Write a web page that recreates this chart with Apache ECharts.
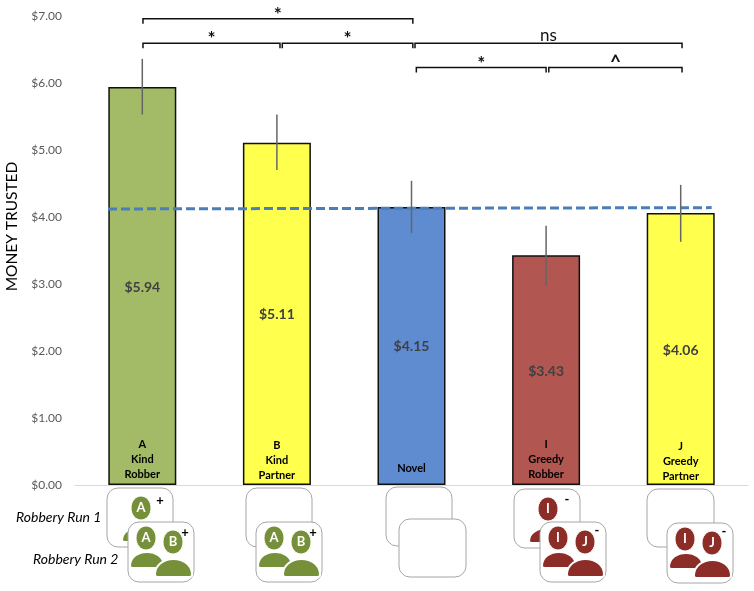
<!DOCTYPE html>
<html lang="en">
<head>
<meta charset="UTF-8" />
<title>Money trusted</title>
<script src="https://cdn.jsdelivr.net/npm/echarts@6/dist/echarts.min.js"></script>
<style>
    body { margin: 0; background: #fff; }
    #chart { width: 754px; height: 591px; }
</style>
</head>
<body>
<div id="chart"></div>
<script>
    // values
    const categories = ['A', 'B', 'Novel', 'I', 'J'];
    const barLabels = ['A\nKind\nRobber', 'B\nKind\nPartner', 'Novel', 'I\nGreedy\nRobber', 'J\nGreedy\nPartner'];
    const barLabelLift = [3, 2, 9, 3, 1];
    const trusted = [5.94, 5.11, 4.15, 3.43, 4.06];
    const barColors = ['#a3bb66', '#ffff4d', '#5f8bd0', '#b15650', '#ffff4d'];
    const errorLow = [5.53, 4.70, 3.76, 2.97, 3.63];
    const errorHigh = [6.36, 5.53, 4.54, 3.87, 4.48];
    const yTicks = [0, 1, 2, 3, 4, 5, 6, 7];

    // blue dashed reference line, x runs 0..5 over the five categories
    const refX = [0.245, 4.73];
    const refY = [4.12, 4.14];

    // significance brackets: from, to, height in dollars, text
    const bracketFrom = [0.505, 0.505, 1.54, 2.526, 2.536, 3.52];
    const bracketTo = [2.51, 1.523, 2.51, 4.51, 3.5, 4.51];
    const bracketLevel = [6.96, 6.595, 6.595, 6.595, 6.23, 6.23];
    const bracketText = ['*', '*', '*', 'ns', '*', '^'];

    const GREEN = '#76903a';
    const RED = '#8c2d27';

    // dome shape for the shoulders of the people in the icons
    echarts.graphic.registerShape('shoulders', echarts.graphic.extendShape({
        shape: { x: 0, y: 0, width: 0, height: 0 },
        buildPath(ctx, s) {
            const m = s.width / 2, r = s.x + s.width, b = s.y + s.height;
            ctx.moveTo(s.x, b - 2);
            ctx.bezierCurveTo(s.x, s.y + s.height * 0.3, s.x + m * 0.5, s.y, s.x + m, s.y);
            ctx.bezierCurveTo(s.x + m * 1.5, s.y, r, s.y + s.height * 0.3, r, b - 2);
            ctx.quadraticCurveTo(r, b, r - 3, b);
            ctx.lineTo(s.x + 3, b);
            ctx.quadraticCurveTo(s.x, b, s.x, b - 2);
            ctx.closePath();
        }
    }));

    // robbery run icons below the axis
    function card(x, y, w, h) {
        return {
            type: 'rect',
            shape: { x: x, y: y, width: w, height: h, r: 11 },
            style: { fill: '#fff', stroke: '#a6a6a6', lineWidth: 1 }
        };
    }
    function head(cx, cy, color, letter) {
        return {
            type: 'ellipse',
            shape: { cx: cx, cy: cy, rx: 10, ry: 12 },
            style: { fill: color, stroke: '#fff', lineWidth: 1 },
            textContent: { style: { text: letter, fill: '#fff', font: 'bold 13px Lato', align: 'center', verticalAlign: 'middle' } },
            textConfig: { position: 'inside' }
        };
    }
    function body(x, y, w, h, color) {
        return {
            type: 'shoulders',
            shape: { x: x, y: y, width: w, height: h },
            style: { fill: color, stroke: '#fff', lineWidth: 2 }
        };
    }
    function sign(x, y, s) {
        const lift = s === '+' ? 2 : 0;
        return { type: 'text', style: { x: x, y: y + lift, text: s, fill: '#000', font: 'bold 13px Lato', align: 'center', verticalAlign: 'middle' } };
    }
    function runOne(x, y, color, letter, s) {
        return [
            card(x, y, 66, 59),
            head(x + 34, y + 20, color, letter),
            body(x + 15, y + 39, 36, 15, color),
            sign(x + 53, y + 11, s)
        ];
    }
    function runTwo(x, y, color, l1, l2, s) {
        return [
            card(x, y, 66, 60),
            head(x + 18, y + 16, color, l1),
            body(x + 2, y + 30, 34, 16, color),
            head(x + 45, y + 20, color, l2),
            body(x + 27, y + 37, 37, 18, color),
            sign(x + 57, y + 9, s)
        ];
    }

    const graphics = [].concat(
        runOne(107, 488, GREEN, 'A', '+'), runTwo(128, 522, GREEN, 'A', 'B', '+'),
        [card(246, 488, 66, 59)], runTwo(256, 522, GREEN, 'A', 'B', '+'),
        [card(386, 487, 66, 59), card(399, 519, 67, 58)],
        runOne(514, 489, RED, 'I', '-'), runTwo(540, 522, RED, 'I', 'J', '-'),
        [card(647, 489, 67, 58)], runTwo(667, 523, RED, 'I', 'J', '-'),
        [
            { type: 'text', style: { x: 16, y: 517, text: 'Robbery Run 1', fill: '#000', font: 'italic 14px Lato', verticalAlign: 'middle' } },
            { type: 'text', style: { x: 33, y: 559, text: 'Robbery Run 2', fill: '#000', font: 'italic 14px Lato', verticalAlign: 'middle' } }
        ]
    );

    const chart = echarts.init(document.getElementById('chart'));
    chart.setOption({
        animation: false,
        textStyle: { fontFamily: 'Lato' },
        grid: { left: 75, right: 6, top: 16, bottom: 106, outerBoundsMode: 'none' },
        xAxis: [
            {
                type: 'category',
                data: categories,
                axisLabel: { show: false },
                axisTick: { show: false },
                axisLine: { lineStyle: { color: '#d9d9d9', width: 1 } }
            },
            { type: 'value', min: 0, max: 5, show: false }
        ],
        yAxis: {
            type: 'value',
            min: yTicks[0],
            max: yTicks[yTicks.length - 1],
            interval: 1,
            name: 'MONEY TRUSTED',
            nameLocation: 'middle',
            nameGap: 53,
            nameTextStyle: { color: '#000', fontSize: 15.5, padding: [0, 0, 0, 48] },
            axisLabel: { color: '#595959', fontSize: 12, margin: 13, formatter: v => '$' + v.toFixed(2) },
            axisLine: { show: false },
            axisTick: { show: false },
            splitLine: { show: false }
        },
        series: [
            {
                type: 'bar',
                barWidth: 68,
                data: trusted.map((v, i) => ({ value: v, itemStyle: { color: barColors[i] } })),
                itemStyle: { borderColor: '#111', borderWidth: 1.5 },
                label: {
                    show: true,
                    position: 'inside',
                    offset: [0, 1],
                    color: '#404040',
                    fontSize: 14,
                    fontWeight: 'bold',
                    formatter: p => '$' + p.value.toFixed(2)
                }
            },
            {
                // names at the foot of each bar
                type: 'bar',
                barWidth: 68,
                barGap: '-100%',
                silent: true,
                z: 3,
                data: trusted.map((v, i) => ({
                    value: v,
                    label: { formatter: barLabels[i], distance: barLabelLift[i] }
                })),
                itemStyle: { color: 'transparent' },
                label: {
                    show: true,
                    position: 'insideBottom',
                    color: '#000',
                    fontSize: 11,
                    fontWeight: 'bold',
                    lineHeight: 15
                }
            },
            {
                type: 'line',
                xAxisIndex: 1,
                data: refX.map((x, i) => [x, refY[i]]),
                symbol: 'none',
                z: 4,
                lineStyle: { color: '#4a7ebb', width: 3, type: [9, 4] }
            },
            {
                // error bars
                type: 'custom',
                z: 5,
                data: categories.map((c, i) => [i, errorLow[i], errorHigh[i]]),
                encode: { x: 0, y: [1, 2] },
                renderItem: (params, api) => {
                    const a = api.coord([api.value(0), api.value(1)]);
                    const b = api.coord([api.value(0), api.value(2)]);
                    return {
                        type: 'line',
                        shape: { x1: a[0], y1: a[1], x2: b[0], y2: b[1] },
                        style: { stroke: '#666', lineWidth: 1.5 }
                    };
                }
            },
            {
                // significance brackets
                type: 'custom',
                xAxisIndex: 1,
                z: 6,
                clip: false,
                data: bracketFrom.map((f, i) => [f, bracketTo[i], bracketLevel[i], i]),
                encode: { x: [0, 1], y: 2 },
                renderItem: (params, api) => {
                    const l = api.coord([api.value(0), api.value(2)]);
                    const r = api.coord([api.value(1), api.value(2)]);
                    const text = bracketText[api.value(3)];
                    const ns = text === 'ns';
                    const star = text === '*';
                    return {
                        type: 'group',
                        children: [
                            {
                                type: 'polyline',
                                shape: { points: [[l[0], l[1] + 5], [l[0], l[1]], [r[0], r[1]], [r[0], r[1] + 5]] },
                                style: { stroke: '#111', lineWidth: 1.5, fill: 'none' }
                            },
                            {
                                type: 'text',
                                style: {
                                    x: (l[0] + r[0]) / 2,
                                    y: l[1] - (ns ? 8 : star ? 4 : 5),
                                    text: text,
                                    fill: '#111',
                                    font: ns ? '17px Lato' : 'bold 19px Lato',
                                    align: 'center',
                                    verticalAlign: 'middle'
                                }
                            }
                        ]
                    };
                }
            }
        ],
        graphic: graphics
    });
</script>
</body>
</html>
